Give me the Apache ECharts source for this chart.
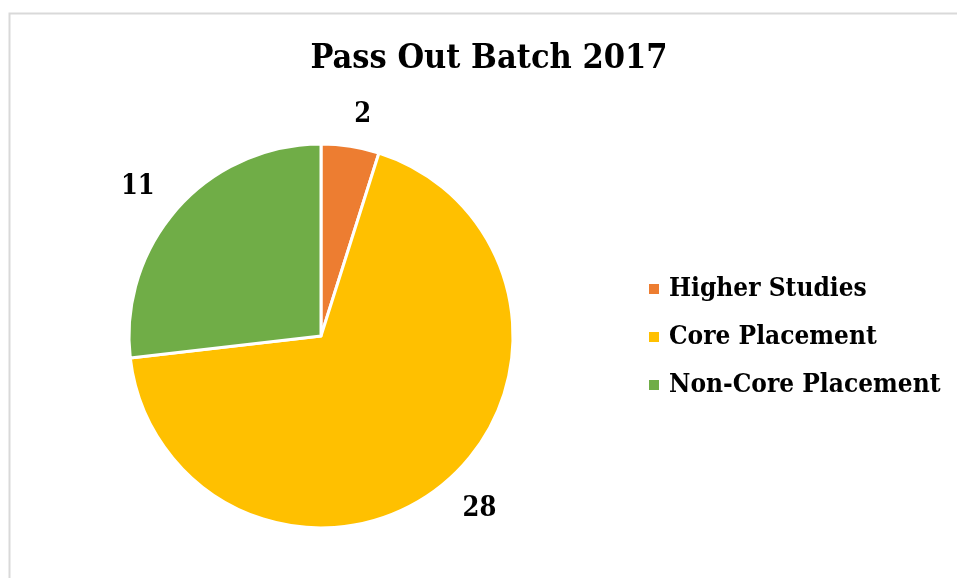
<!DOCTYPE html>
<html>
<head>
<meta charset="utf-8">
<script src="https://cdn.jsdelivr.net/npm/echarts@6/dist/echarts.min.js"></script>
<style>
  html, body { margin: 0; padding: 0; background: #fff; }
  #chart { width: 957px; height: 578px; }
</style>
</head>
<body>
<div id="chart"></div>
<script>
// --- data ---
var categories = ['Higher Studies', 'Core Placement', 'Non-Core Placement'];
var counts = [2, 28, 11];
var colors = ['#ED7D31', '#FFC000', '#70AD47'];

var font = '"DejaVu Serif Condensed", "DejaVu Serif", serif';

var chart = echarts.init(document.getElementById('chart'));

var pieData = categories.map(function (name, i) {
  return { name: name, value: counts[i], itemStyle: { color: colors[i] } };
});

chart.setOption({
  animation: false,
  backgroundColor: '#fff',
  title: {
    text: 'Pass Out Batch 2017',
    left: 484,
    textAlign: 'center',
    top: 37,
    textStyle: { fontFamily: font, fontWeight: 'bold', fontSize: 34, color: '#000' }
  },
  legend: {
    orient: 'vertical',
    left: 642,
    top: 271,
    itemWidth: 12,
    itemHeight: 12,
    itemGap: 22,
    icon: 'rect',
    textStyle: { fontFamily: font, fontWeight: 'bold', fontSize: 26, color: '#000', padding: [0, 0, 0, 4] }
  },
  // chart area frame
  graphic: [{
    type: 'rect',
    shape: { x: 9.5, y: 13.5, width: 1000, height: 1000 },
    style: { fill: null, stroke: '#d9d9d9', lineWidth: 2 },
    silent: true
  }],
  series: [{
    type: 'pie',
    center: [321, 336],
    radius: 192,
    startAngle: 90,
    clockwise: true,
    data: pieData,
    itemStyle: { borderColor: '#fff', borderWidth: 3 },
    label: {
      show: true,
      position: 'outside',
      formatter: '{c}',
      fontFamily: font,
      fontWeight: 'bold',
      fontSize: 27,
      color: '#000'
    },
    labelLine: { show: false, length: 32, length2: -6 }
  }]
});
</script>
</body>
</html>
